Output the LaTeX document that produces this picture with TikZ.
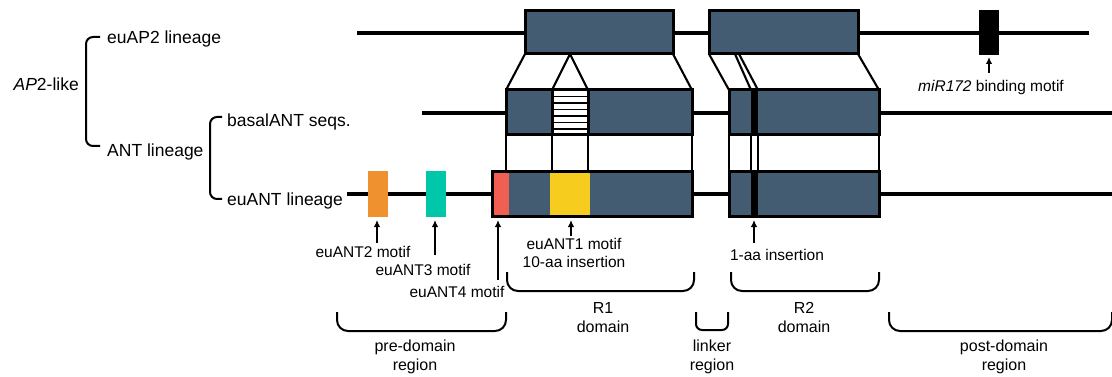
\documentclass[tikz,border=0pt]{standalone}
\usepackage{fontspec}
\setmainfont{Liberation Sans}
\usepackage{tikz}
\usetikzlibrary{arrows.meta,calc}

\definecolor{slate}{HTML}{445C72}
\definecolor{antorange}{HTML}{F0912F}
\definecolor{antteal}{HTML}{00C6AA}
\definecolor{antred}{HTML}{EF6052}
\definecolor{antyellow}{HTML}{F6CC1E}

\begin{document}
\begin{tikzpicture}[x=1pt,y=-1pt]
\tikzset{
	seq line/.style = {line width = 3.2pt},
	domain box/.style = {draw, line width = 3pt, fill = slate},
	map line/.style = {line width = 2.1pt},
	drop line/.style = {line width = 1.5pt},
	motif arrow/.style = {-{Latex[length = 7pt, width = 6.5pt]}, line width = 1.9pt},
	region brace/.style = {line width = 2pt, rounded corners = 11pt},
	tree brace/.style = {line width = 2pt, rounded corners = 7pt},
	big label/.style = {anchor = base west, inner sep = 0, font = \fontsize{17.5}{21}\selectfont},
	small label/.style = {anchor = base, inner sep = 0, align = center, font = \fontsize{15.5}{18}\selectfont},
	region label/.style = {anchor = base, inner sep = 0, align = center, font = \fontsize{16}{18.5}\selectfont}
}
\useasboundingbox (0,0) rectangle (1112,377);

\draw[tree brace] (100,37) -- (86,37) -- (86,146) -- (100,146);
\draw[tree brace] (222,117) -- (210,117) -- (210,199) -- (222,199);
\node[big label, anchor = base east] (ap2) at (79,91) {\textit{AP}2-like};
\node[big label] (euap2) at (107,44) {euAP2 lineage};
\node[big label] (ant) at (107,157) {ANT lineage};
\node[big label] (basal) at (227,127) {basalANT seqs.};
\node[big label] (euant) at (227,205) {euANT lineage};

\draw[seq line] (357,33) -- (1089,33);
\draw[seq line] (422,113) -- (1112,113);
\draw[seq line] (347,194) -- (1112,194);

\draw[domain box] (525,11) rectangle (673,54);
\draw[domain box] (709,11) rectangle (858,54);
\fill (979,10) rectangle (999,55);

\draw[map line] (525,54) -- (506,90) (673,54) -- (692,90) (552,90) -- (570,54) -- (588,90);
\draw[map line] (709,54) -- (729,90) (735,54) -- (751,90) (739,54) -- (758,90) (858,54) -- (879,90);

\fill[slate] (506,90) rectangle (692,135);
\fill[white] (552,90) rectangle (588,135);
\foreach \y in {96.5,103,...,130}
	\draw[line width = 1.6pt] (552,\y) -- (588,\y);
\draw[line width = 3pt] (552,90) -- (552,135) (588,90) -- (588,135);
\draw[domain box, fill = none] (506,90) rectangle (692,135);
\draw[domain box] (729,90) rectangle (879,135);
\fill (751,90) rectangle (758,135);

\foreach \x in {506,552,588,692,729,751,758,879}
	\draw[drop line] (\x,135) -- (\x,172);

\fill[antorange] (368,171) rectangle (388,217);
\fill[antteal] (426,171) rectangle (446,217);
\fill[slate] (492,172) rectangle (692,217);
\fill[antred] (492,172) rectangle (509,217);
\fill[antyellow] (550,172) rectangle (590,217);
\draw[domain box, fill = none] (492,172) rectangle (692,217);
\draw[domain box] (729,172) rectangle (879,217);
\fill (751,172) rectangle (758,217);

\node[small label] (mir) at (991,92) {\textit{miR172} binding motif};
\node[small label] (m2) at (363,258) {euANT2 motif};
\node[small label] (m3) at (423,275) {euANT3 motif};
\node[small label] (m4) at (457,297) {euANT4 motif};
\node[small label] (m1) at (574,267) {euANT1 motif\\10-aa insertion};
\node[small label] (ins) at (777,260) {1-aa insertion};

\coordinate (mir tip) at (989,57);
\draw[motif arrow] (989,73) -- (mir tip);
\foreach \n/\x/\t in {m2/377/243, m3/435/255, m4/498/280, m1/571/236, ins/754/243}{
	\coordinate (\n tip) at (\x,220);
	\draw[motif arrow] (\x,\t) -- (\n tip);
}

\draw[region brace] (337,312) -- (337,331) -- (506,331) -- (506,312);
\draw[region brace] (507,272) -- (507,291) -- (694,291) -- (694,272);
\draw[region brace, rounded corners = 6pt] (696,312) -- (696,330) -- (728,330) -- (728,312);
\draw[region brace] (731,272) -- (731,291) -- (879,291) -- (879,272);
\draw[region brace] (889,312) -- (889,331) -- (1112,331) -- (1112,312);

\node[region label] (pre) at (415,370) {pre-domain\\region};
\node[region label] (r1) at (603,332) {R1\\domain};
\node[region label] (linker) at (712,370) {linker\\region};
\node[region label] (r2) at (804,332) {R2\\domain};
\node[region label] (post) at (1004,370) {post-domain\\region};
\end{tikzpicture}
\end{document}
